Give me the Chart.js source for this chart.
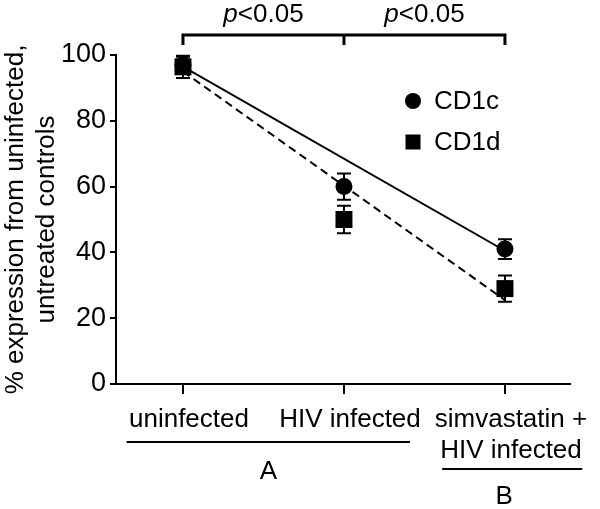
<!DOCTYPE html>
<html>
<head>
<meta charset="utf-8">
<script src="https://cdn.jsdelivr.net/npm/chart.js@4.4.0/dist/chart.umd.min.js"></script>
<style>
  html, body { margin: 0; padding: 0; background: #fff; }
  #wrap { width: 600px; height: 509px; }
</style>
</head>
<body>
<div id="wrap"><canvas id="c" width="600" height="509"></canvas></div>
<script>
// data
var categories = ["uninfected", "HIV infected", ["simvastatin +", "HIV infected"]];
var catX = [0, 1, 2];
var cd1c = [97, 60, 41];
var cd1cErr = [2.5, 4, 3];
var cd1d = [96.4, 50, 29];
var cd1dErr = [3.4, 4.2, 4];
var fitX = [0, 2];
var fitC = [96.5, 40.5];
var fitD = [95, 25.5];
var yTicks = [0, 20, 40, 60, 80, 100];
var pText = "<0.05";
var groups = [
  { label: "A", from: -0.35, to: 1.41 },
  { label: "B", from: 1.61, to: 2.48 }
];

var FONT = '"Liberation Sans", Arial, sans-serif';
var FS = 26;

function pts(xs, ys) {
  return xs.map(function (x, i) { return { x: x, y: ys[i] }; });
}

var errorBars = {
  id: "errorBars",
  beforeDatasetsDraw: function (chart) {
    var ctx = chart.ctx, xs = chart.scales.x, ys = chart.scales.y;
    var sets = [[cd1c, cd1cErr], [cd1d, cd1dErr]];
    ctx.save();
    ctx.strokeStyle = "#000";
    ctx.lineWidth = 2;
    sets.forEach(function (s) {
      s[0].forEach(function (v, i) {
        var px = xs.getPixelForValue(catX[i]);
        var top = ys.getPixelForValue(v + s[1][i]);
        var bot = ys.getPixelForValue(v - s[1][i]);
        ctx.beginPath();
        ctx.moveTo(px, top); ctx.lineTo(px, bot);
        ctx.moveTo(px - 7, top); ctx.lineTo(px + 7, top);
        ctx.moveTo(px - 7, bot); ctx.lineTo(px + 7, bot);
        ctx.stroke();
      });
    });
    ctx.restore();
  }
};

var annotations = {
  id: "annotations",
  afterDraw: function (chart) {
    var ctx = chart.ctx, xs = chart.scales.x;
    ctx.save();
    ctx.strokeStyle = "#000";
    ctx.fillStyle = "#000";
    ctx.lineWidth = 3;
    // significance bracket
    var by = 35, tickEnd = 45;
    var x0 = xs.getPixelForValue(0), x1 = xs.getPixelForValue(1), x2 = xs.getPixelForValue(2);
    ctx.beginPath();
    ctx.moveTo(x0, tickEnd); ctx.lineTo(x0, by); ctx.lineTo(x2, by); ctx.lineTo(x2, tickEnd);
    ctx.moveTo(x1, by); ctx.lineTo(x1, tickEnd);
    ctx.stroke();
    ctx.textBaseline = "alphabetic";
    [0.5, 1.5].forEach(function (m) {
      var cx = xs.getPixelForValue(m);
      ctx.font = "italic " + FS + "px " + FONT;
      var wp = ctx.measureText("p").width;
      ctx.font = FS + "px " + FONT;
      var wr = ctx.measureText(pText).width;
      var sx = cx - (wp + wr) / 2;
      ctx.font = "italic " + FS + "px " + FONT;
      ctx.textAlign = "left";
      ctx.fillText("p", sx, 22);
      ctx.font = FS + "px " + FONT;
      ctx.fillText(pText, sx + wp, 22);
    });
    // group underlines
    ctx.lineWidth = 2;
    ctx.textAlign = "center";
    ctx.textBaseline = "middle";
    ctx.font = FS + "px " + FONT;
    var gy = [442, 469], ly = [472, 497];
    groups.forEach(function (g, i) {
      var a = xs.getPixelForValue(g.from), b = xs.getPixelForValue(g.to);
      ctx.beginPath();
      ctx.moveTo(a, gy[i]); ctx.lineTo(b, gy[i]);
      ctx.stroke();
      ctx.fillText(g.label, (a + b) / 2 - (i === 1 ? 8 : 0), ly[i]);
    });
    // legend
    ctx.textAlign = "left";
    ctx.textBaseline = "middle";
    ctx.beginPath();
    ctx.arc(413, 101, 8, 0, Math.PI * 2);
    ctx.fill();
    ctx.fillRect(405.5, 134.5, 15, 15);
    ctx.fillText("CD1c", 434, 102);
    ctx.fillText("CD1d", 434, 143);
    ctx.restore();
  }
};

new Chart(document.getElementById("c"), {
  type: "scatter",
  data: {
    datasets: [
      {
        label: "CD1c fit",
        data: pts(fitX, fitC),
        showLine: true,
        borderColor: "#000",
        borderWidth: 2,
        pointRadius: 0
      },
      {
        label: "CD1d fit",
        data: pts(fitX, fitD),
        showLine: true,
        borderColor: "#000",
        borderWidth: 2,
        borderDash: [8, 5],
        pointRadius: 0
      },
      {
        label: "CD1c",
        data: pts(catX, cd1c),
        pointStyle: "circle",
        pointRadius: 8.5,
        backgroundColor: "#000",
        borderColor: "#000",
        borderWidth: 0
      },
      {
        label: "CD1d",
        data: pts(catX, cd1d),
        pointStyle: "rect",
        pointRadius: 12,
        backgroundColor: "#000",
        borderColor: "#000",
        borderWidth: 0
      }
    ]
  },
  options: {
    responsive: false,
    animation: false,
    events: [],
    layout: { padding: { top: 55, right: 30, left: 0, bottom: 0 } },
    plugins: { legend: { display: false }, tooltip: { enabled: false } },
    scales: {
      x: {
        type: "linear",
        min: -0.416,
        max: 2.404,
        afterBuildTicks: function (s) {
          s.ticks = catX.map(function (v) { return { value: v }; });
        },
        afterFit: function (s) { s.height = 125; },
        border: { display: true, color: "#000", width: 2 },
        grid: { display: true, drawOnChartArea: false, drawTicks: true, tickLength: 10, color: "#000", lineWidth: 2 },
        ticks: {
          color: "#000",
          font: { family: FONT, size: FS },
          padding: 10,
          labelOffset: 6,
          maxRotation: 0,
          autoSkip: false,
          callback: function (v) { return categories[catX.indexOf(v)]; }
        }
      },
      y: {
        min: 0,
        max: 100,
        afterBuildTicks: function (s) {
          s.ticks = yTicks.map(function (v) { return { value: v }; });
        },
        afterFit: function (s) { s.width = 116; },
        border: { display: true, color: "#000", width: 2 },
        grid: { display: true, drawOnChartArea: false, drawTicks: true, tickLength: 6, color: "#000", lineWidth: 2 },
        ticks: {
          color: "#000",
          font: { family: FONT, size: 27 },
          padding: 4
        },
        title: {
          display: true,
          text: ["% expression from uninfected,", "untreated controls"],
          color: "#000",
          font: { family: FONT, size: 26 },
          padding: 0
        }
      }
    }
  },
  plugins: [errorBars, annotations]
});
</script>
</body>
</html>
